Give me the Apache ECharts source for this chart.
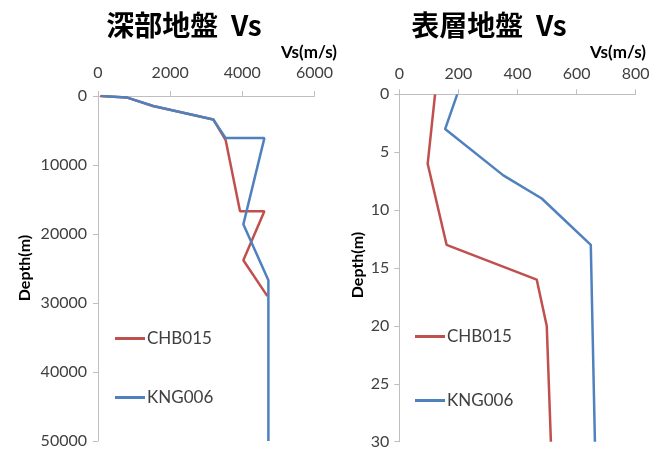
<!DOCTYPE html>
<html>
<head>
<meta charset="utf-8">
<script src="https://cdn.jsdelivr.net/npm/echarts@6/dist/echarts.min.js"></script>
<style>html,body{margin:0;padding:0;background:#fff;}#c{width:661px;height:450px;}</style>
</head>
<body>
<div id="c"></div>
<script>
// Deep ground (深部地盤)
const deepCHB_vs    = [60, 789, 1528, 3194, 3539, 3936, 4611, 4028, 4694];
const deepCHB_depth = [0, 200, 1450, 3400, 6400, 16700, 16700, 23800, 29000];
const deepKNG_vs    = [94, 789, 1528, 3194, 3539, 4611, 4028, 4722, 4722];
const deepKNG_depth = [0, 200, 1450, 3400, 6100, 6100, 18600, 26700, 50000];
// Shallow ground (表層地盤)
const shallowCHB_vs    = [121, 96, 160, 465, 499, 513];
const shallowCHB_depth = [0, 6, 13, 16, 20, 30];
const shallowKNG_vs    = [196, 155, 352, 482, 648, 662];
const shallowKNG_depth = [0, 3, 7, 9, 13, 30];

const seriesNames = ['CHB015', 'KNG006'];
const colors = ['#C0504D', '#4F81BD'];

function pairs(xs, ys) { return xs.map((v, i) => [v, ys[i]]); }

const FONT = 'Lato, "Noto Sans", sans-serif';
const CJK = '"Noto Sans CJK JP", "Noto Sans", sans-serif';
const axisLineStyle = { color: '#BFBFBF', width: 1 };
const labelStyle = { color: '#404040', fontSize: 16, fontFamily: FONT, formatter: v => String(v) };

function xAx(idx, max, interval, margin) {
  return {
    type: 'value', gridIndex: idx, position: 'top', min: 0, max: max, interval: interval,
    axisLine: { show: true, lineStyle: axisLineStyle },
    axisTick: { show: true, length: 5, lineStyle: axisLineStyle },
    splitLine: { show: false },
    axisLabel: Object.assign({ margin: margin }, labelStyle)
  };
}
function yAx(idx, max, interval, margin) {
  return {
    type: 'value', gridIndex: idx, inverse: true, min: 0, max: max, interval: interval,
    axisLine: { show: true, lineStyle: axisLineStyle },
    axisTick: { show: true, length: 5, lineStyle: axisLineStyle },
    splitLine: { show: false },
    axisLabel: Object.assign({ margin: margin }, labelStyle)
  };
}
function line(name, color, data, idx) {
  return {
    name: name, type: 'line', xAxisIndex: idx, yAxisIndex: idx, data: data,
    symbol: 'none', lineStyle: { color: color, width: 2.5 }, itemStyle: { color: color },
    animation: false
  };
}

const chart = echarts.init(document.getElementById('c'), null, { renderer: 'canvas' });
chart.setOption({
  backgroundColor: '#fff',
  animation: false,
  grid: [
    { left: 98, right: 346.5, top: 96, bottom: 9 },
    { left: 399.3, right: 25.3, top: 94.3, bottom: 8.3 }
  ],
  xAxis: [xAx(0, 6000, 2000, 15), xAx(1, 800, 200, 12)],
  yAxis: [yAx(0, 50000, 10000, 11), yAx(1, 30, 5, 10)],
  legend: [
    { orient: 'vertical', left: 115, top: 330, padding: 0, itemGap: 42, itemWidth: 30, itemHeight: 3, icon: 'rect',
      textStyle: { color: '#404040', fontSize: 17, fontFamily: FONT, padding: [0, 0, 0, -3] }, data: seriesNames },
    { orient: 'vertical', left: 415, top: 328, padding: 0, itemGap: 47, itemWidth: 30, itemHeight: 3, icon: 'rect',
      textStyle: { color: '#404040', fontSize: 17, fontFamily: FONT, padding: [0, 0, 0, -3] }, data: seriesNames }
  ],
  graphic: [
    { type: 'text', x: 184, y: 25, style: { text: '深部地盤  Vs', align: 'center', verticalAlign: 'middle', fontSize: 28, fontWeight: 'bold', fontFamily: CJK, fill: '#000' } },
    { type: 'text', x: 489, y: 25, style: { text: '表層地盤  Vs', align: 'center', verticalAlign: 'middle', fontSize: 28, fontWeight: 'bold', fontFamily: CJK, fill: '#000' } },
    { type: 'text', x: 309, y: 53, style: { text: 'Vs(m/s)', align: 'center', verticalAlign: 'middle', fontSize: 17, fontWeight: 'bold', fontFamily: FONT, fill: '#000' } },
    { type: 'text', x: 618, y: 53, style: { text: 'Vs(m/s)', align: 'center', verticalAlign: 'middle', fontSize: 17, fontWeight: 'bold', fontFamily: FONT, fill: '#000' } },
    { type: 'text', x: 25, y: 268, rotation: Math.PI / 2, style: { text: 'Depth(m)', align: 'center', verticalAlign: 'middle', fontSize: 16, fontWeight: 'bold', fontFamily: FONT, fill: '#000' } },
    { type: 'text', x: 358, y: 265, rotation: Math.PI / 2, style: { text: 'Depth(m)', align: 'center', verticalAlign: 'middle', fontSize: 16, fontWeight: 'bold', fontFamily: FONT, fill: '#000' } }
  ],
  series: [
    line(seriesNames[0], colors[0], pairs(deepCHB_vs, deepCHB_depth), 0),
    line(seriesNames[1], colors[1], pairs(deepKNG_vs, deepKNG_depth), 0),
    line(seriesNames[0], colors[0], pairs(shallowCHB_vs, shallowCHB_depth), 1),
    line(seriesNames[1], colors[1], pairs(shallowKNG_vs, shallowKNG_depth), 1)
  ]
});
</script>
</body>
</html>
